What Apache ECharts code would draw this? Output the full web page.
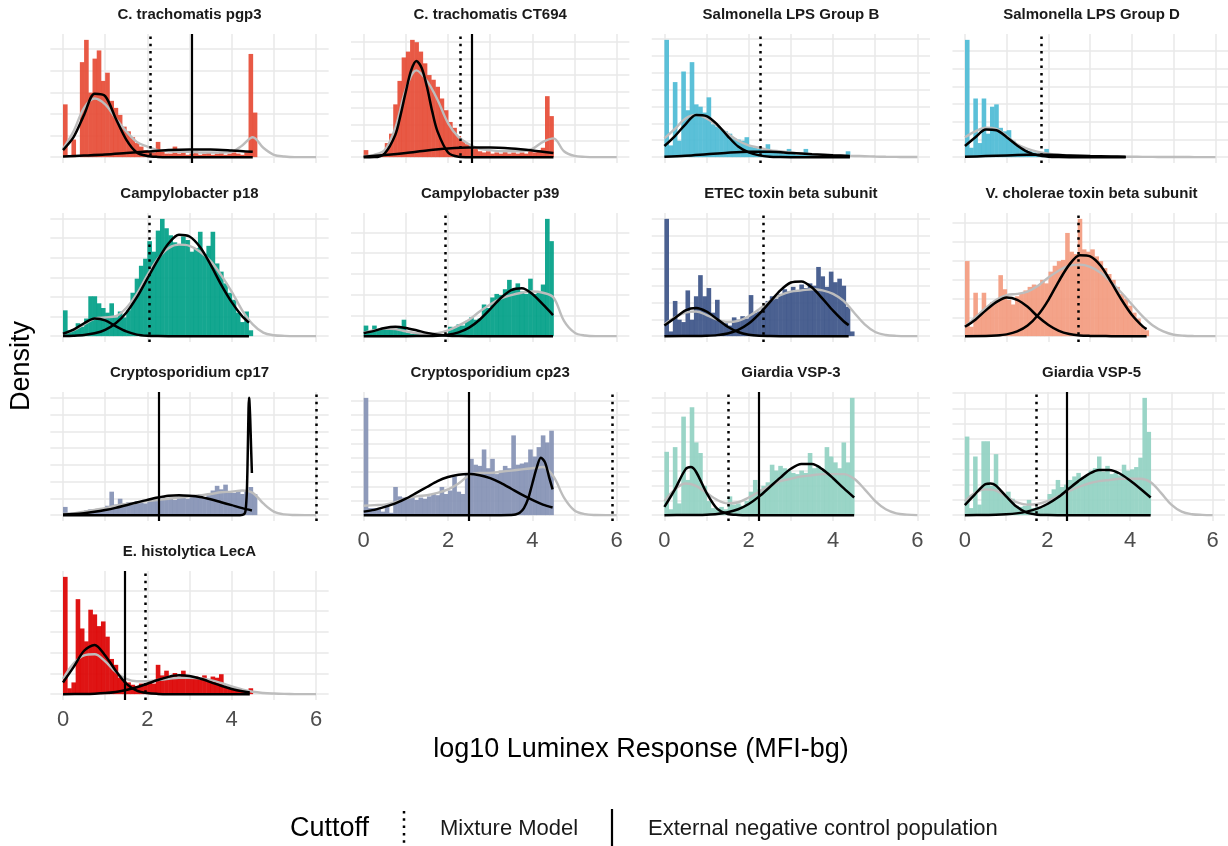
<!DOCTYPE html>
<html><head><meta charset="utf-8">
<script src="https://cdn.jsdelivr.net/npm/echarts@6/dist/echarts.min.js"></script>
<style>html,body{margin:0;padding:0;background:#fff}#c{width:1228px;height:846px}</style>
</head><body><div id="c"></div>
<script>
// ---------------- DATA ----------------
const panelTitles = ['C. trachomatis pgp3','C. trachomatis CT694','Salmonella LPS Group B','Salmonella LPS Group D',
  'Campylobacter p18','Campylobacter p39','ETEC toxin beta subunit','V. cholerae toxin beta subunit',
  'Cryptosporidium cp17','Cryptosporidium cp23','Giardia VSP-3','Giardia VSP-5','E. histolytica LecA'];
const binWidth = 0.1;           // histogram bins start at 0
const densX = [0,0.25,0.5,0.75,1,1.25,1.5,1.75,2,2.25,2.5,2.75,3,3.25,3.5,3.75,4,4.25,4.5,4.75,5,5.25,5.5,5.75,6];
const xTickLabels = ['0','2','4','6'];
// cutoffs (log10 MFI-bg); null = not drawn
const mixtureCutoff  = [2.06,2.30,2.27,1.83,2.05,1.93,2.34,2.72,6.00,5.90,1.52,1.72,1.94];
const externalCutoff = [3.05,2.56,null,null,null,null,null,null,2.27,2.50,2.24,2.47,1.46];
// y grid spacing per panel (same units as densities below)
const yGridStep = [18.4,14,14.4,15.1,16.7,17.7,14.3,16.1,14.3,12.2,12.5,13,17.7];

// histograms (relative density per 0.1 bin)
const histPgp3 = [45,0,15,0,81,100,55,84,91,65,72,48,42,36,26,22,17,12,9,6,5,4,13,5,3,3,9,3,4,2,3,5,2,3,4,2,3,4,2,3,4,3,2,4,88,38];
const histCT694 = [6,1,1,2,3,12,20,45,65,85,90,100,98,90,80,70,66,60,50,40,30,25,18,14,11,8,7,5,4,5,3,4,3,5,3,4,3,4,3,5,4,6,8,52,35];
const histSalB = [100,10,64,14,73,40,81,45,43,38,51,28,26,24,22,20,16,15,14,17,9,8,7,6,11,5,4,5,3,7,3,2,3,7,2,2,1,2,1,1,1,1,1,5];
const histSalD = [100,8,50,12,50,20,43,45,25,22,23,14,10,8,6,5,4,3,3,7,2,1.5,1,1,0.8,0.5,0,1,0,0,0,0.8,0,0,0,0,0,0.8,0];
const histP18 = [22,5,6,11,8,15,34,34,28,24,20,28,16,21,16,22,37,49,60,66,81,72,90,100,92,86,80,78,85,82,72,75,89,70,77,89,62,55,45,37,31,20,12,21,5];
const histP39 = [9,5,9,6,7,6,8,6,7,14,3,2,2,1.5,1,1.5,1,2,1.5,2,8,7,10,9,13,16,14,15,27,24,33,36,35,40,48,40,45,38,36,49,36,38,44,100,81];
const histETEC = [100,4,30,14,12,39,14,34,52,34,41,20,31,12,11,9,16,14,17,15,35,20,21,24,30,34,32,36,40,38,42,39,44,41,45,43,59,51,42,55,46,49,43,25,4];
const histVC = [64,8,37,19,37,25,29,30,52,40,31,27,34,36,39,42,44,43,48,45,55,60,64,65,88,72,70,100,74,72,74,68,64,58,53,48,42,36,32,26,20,15,8,5];
const histCp17 = [7,2,2,1.5,3,4,5,5,4,6,8,20,9,14,10,11,9,12,11,10,13,14,12,16,14,15,13,16,15,14,17,16,18,15,17,21,25,22,26,20,19,21,18,20,24,18];
const histCp23 = [100,6,6,5,3,9,2,24,16,15,14,15,13,15,14,16,18,17,24,18,21,33,20,18,36,48,43,42,56,40,48,35,38,42,40,68,43,44,45,56,50,58,68,62,72];
const histVSP3 = [54,5,58,10,84,30,92,62,53,25,12,6,5,7,5,16,9,10,8,12,20,30,22,25,28,43,38,42,40,38,36,35,38,36,53,40,42,38,58,50,45,40,62,45,100];
const histVSP5 = [67,6,50,9,63,63,25,52,20,18,20,14,8,7,8,13,6,7,6,8,18,22,30,24,26,30,33,36,31,34,38,40,50,37,42,35,36,34,43,38,39,41,49,100,71];
const histLecA = [100,5,10,81,56,45,72,68,58,62,49,30,25,14,11,10,8,7,9,8,10,9,25,16,20,15,18,14,20,16,13,15,14,16,13,15,14,17,6,5,4,4,3,3,5];

// overall density (grey), sampled at densX
const densPgp3 = [7,22,42,50,45,33,22,13,9,6,5,4.5,4.5,4,4,4,4.5,10,17,8,2,0.5,0,0,0];
const densCT694 = [1,2,6,25,58,74,65,49,29,17,11,7,6,5,5,5,7,13,16,5,1,0.2,0,0,0];
const densSalB = [16,24,33,36,33,27,20,14,10,8,6,5,4,3,2.5,2,1.5,1.2,1,0.8,0.5,0.3,0.2,0.1,0.1];
const densSalD = [17,22,25,24,18,11,7,4.5,3,2,1.5,1,0.8,0.6,0.5,0.4,0.3,0.25,0.2,0.15,0.1,0.07,0.05,0.02,0];
const densP18 = [2,5,10,15,16,17,24,36,52,66,75,78,77,72,64,52,38,22,10,3,0.8,0.2,0,0,0];
const densP39 = [3,5,6.5,6,4,2.5,2,2.5,5,9,14,21,27,32,35,37,38,37,33,13,3,0.5,0,0,0];
const densETEC = [10,16,20,21,18,14,12,13,17,23,30,35,38,39,40,39,36,30,20,10,3.5,1,0.2,0,0];
const densVC = [8,16,24,31,35,36,38,43,50,56,60,61,59,54,46,37,27,17,9,4,1.2,0.3,0.05,0,0];
const densCp17 = [1,1.5,3,4.5,6,8,9.5,10.5,12,13,14,15,16,17,18,19.5,20,21,19,10,3,0.6,0.1,0,0];
const densCp23 = [8,8.5,9,11,14,16,17,19,22,27,34,36,36,37,38,39,40,41,33,15,4,0.8,0.1,0,0];
const densVSP3 = [12,22,27,25,19,13,10,11,15,20,25,29,31,33,34,35,35,35,31,22,12,5,1.5,0.4,0];
const densVSP5 = [12,19,22,21,16,11,9,9.5,12,16,20,24,27,29,30,31,31,31,28,19,9,3,0.8,0.2,0];
const densLecA = [13,26,33,34,28,19,13,11,11,12,13,14,14,13.5,12,9.5,6.5,4,2,1,0.5,0.2,0.05,0,0];

// mixture model components (black), [x, density]
const negPgp3 = [[0,6],[0.25,17],[0.5,36],[0.75,54],[1,52],[1.25,33],[1.5,15],[1.75,4],[2,1],[2.25,0.2],[2.5,0],[4.5,0]];
const posPgp3 = [[0,0.5],[0.5,1.3],[1,2.2],[1.5,3.5],[2,4.8],[2.5,6],[3,6.5],[3.5,6.5],[4,5.7],[4.5,4.5]];
const negCT694 = [[0,0],[0.25,0.03],[0.5,3.3],[0.75,19],[0.875,36],[1,56],[1.125,74],[1.25,82],[1.375,76],[1.5,60],[1.625,39],[1.75,22],[2,4],[2.25,0.4],[2.5,0],[4.5,0]];
const posCT694 = [[0,0.4],[0.5,1.8],[1,3.5],[1.5,5.7],[2,7.4],[2.5,8.3],[3,8.3],[3.5,7.4],[4,5.7],[4.5,3.5]];
const negSalB = [[0,9.5],[0.25,18],[0.5,28],[0.75,36],[1,35],[1.25,28],[1.5,18],[1.75,9],[2,4],[2.25,1.5],[2.5,0.4],[2.75,0.1],[3,0],[4.4,0]];
const posSalB = [[0,0.3],[0.5,1.2],[1,2.5],[1.5,3.8],[2,4.6],[2.5,4.5],[3,3.6],[3.5,2.5],[4,1.6],[4.4,1]];
const negSalD = [[0,9.5],[0.25,17],[0.5,23.5],[0.75,23],[1,17],[1.25,10],[1.5,4.5],[1.75,1.5],[2,0.4],[2.25,0.1],[2.5,0],[3.85,0]];
const posSalD = [[0,0.3],[0.5,0.9],[1,1.5],[1.5,2],[2,2],[2.5,1.5],[3,1],[3.5,0.6],[3.85,0.4]];
const negP18 = [[0,2],[0.25,5.5],[0.5,11],[0.75,15],[1,13.5],[1.25,8.5],[1.5,4],[1.75,1.3],[2,0.3],[2.25,0.05],[2.5,0],[4.41,0]];
const posP18 = [[0,0.1],[0.25,0.4],[0.5,1],[0.75,2.4],[1,5.4],[1.25,11],[1.5,20],[1.75,33],[2,49],[2.25,65],[2.5,79],[2.75,86.5],[3,85],[3.25,76],[3.5,61],[3.75,44],[4,29],[4.25,17],[4.41,11.5]];
const negP39 = [[0,2.5],[0.25,4.5],[0.5,7],[0.75,8],[1,7],[1.25,5],[1.5,2.8],[1.75,1.2],[2,0.4],[2.25,0.1],[2.5,0],[4.49,0]];
const posP39 = [[0,0],[1,0],[1.5,0.1],[1.75,0.4],[2,1.2],[2.25,3.2],[2.5,7.2],[2.75,14],[3,23],[3.25,32.5],[3.5,39.3],[3.75,40.8],[4,36],[4.25,27],[4.49,18]];
const negETEC = [[0,9],[0.25,15.5],[0.5,22],[0.75,24],[1,21],[1.25,14.5],[1.5,8],[1.75,3.5],[2,1.2],[2.25,0.3],[2.5,0.1],[2.75,0],[4.37,0]];
const posETEC = [[0,0],[0.75,0.05],[1,0.28],[1.25,0.86],[1.5,2.3],[1.75,5.3],[2,10.7],[2.25,19],[2.5,29],[2.75,39],[3,45.7],[3.25,46.6],[3.5,41.4],[3.75,32],[4,21.7],[4.25,12.7],[4.37,9.4]];
const negVC = [[0,8],[0.25,14],[0.5,22],[0.75,29],[1,33],[1.25,31],[1.5,25],[1.75,16.5],[2,9.5],[2.25,4.5],[2.5,1.8],[2.75,0.6],[3,0.2],[3.25,0.05],[3.5,0],[4.35,0]];
const posVC = [[0,0],[0.5,0.1],[0.75,0.5],[1,1.5],[1.25,4],[1.5,9],[1.75,18],[2,31],[2.25,47],[2.5,61],[2.75,69],[3,68],[3.25,60],[3.5,46],[3.75,31],[4,18],[4.25,8.5],[4.35,6]];
const negCp17 = [[0,0.6],[0.25,1],[0.5,1.7],[0.75,2.8],[1,4.3],[1.25,6.2],[1.5,8.5],[1.75,10.8],[2,13],[2.25,15],[2.5,16.5],[2.75,17],[3,16.5],[3.25,15.5],[3.5,13.5],[3.75,11],[4,8.5],[4.25,6],[4.48,4]];
const posCp17 = [[0,0],[4.2,0],[4.3,1],[4.33,4],[4.36,20],[4.38,50],[4.4,90],[4.41,100],[4.42,98],[4.44,82],[4.46,58],[4.48,36]];
const negCp23 = [[0,3],[0.25,4.5],[0.5,7],[0.75,10],[1,14],[1.25,19],[1.5,24],[1.75,29],[2,32.5],[2.25,34.5],[2.5,35],[2.75,34],[3,31.5],[3.25,27.5],[3.5,22.5],[3.75,17.5],[4,13],[4.25,9],[4.48,6.5]];
const posCp23 = [[0,0],[3.25,0],[3.5,0.1],[3.6,0.5],[3.7,2],[3.8,6],[3.9,14],[4,27],[4.1,40],[4.2,49],[4.3,45],[4.4,32],[4.48,22]];
const negVSP3 = [[0,7],[0.25,22],[0.5,39],[0.625,41],[0.75,37],[1,19],[1.25,5.5],[1.5,1],[1.75,0.15],[2,0],[4.5,0]];
const posVSP3 = [[0,0],[0.5,0.05],[0.75,0.15],[1,0.4],[1.25,1],[1.5,2.4],[1.75,5],[2,9.5],[2.25,16],[2.5,24],[2.75,32],[3,39.5],[3.25,43.5],[3.5,43.5],[3.75,39],[4,31.5],[4.25,23],[4.5,15]];
const negVSP5 = [[0,8.6],[0.25,18],[0.5,26.5],[0.625,27],[0.75,25.2],[1,16],[1.25,7.3],[1.5,2.1],[1.75,0.4],[2,0.05],[2.25,0],[4.5,0]];
const posVSP5 = [[0,0],[0.5,0.1],[0.75,0.25],[1,0.7],[1.25,1.5],[1.5,3],[1.75,5.5],[2,9.5],[2.25,15],[2.5,22],[2.75,29],[3,35],[3.25,38.5],[3.5,38.5],[3.75,35.5],[4,29.5],[4.25,22.5],[4.5,15]];
const negLecA = [[0,10],[0.25,23],[0.5,37],[0.75,42],[1,33],[1.25,20],[1.5,9],[1.75,3],[2,0.9],[2.25,0.2],[2.5,0],[4.43,0]];
const posLecA = [[0,0],[0.5,0.14],[0.75,0.37],[1,0.9],[1.25,1.9],[1.5,3.5],[1.75,5.9],[2,8.9],[2.25,12],[2.5,14.7],[2.75,16],[3,15.4],[3.25,13.3],[3.5,10.3],[3.75,7.1],[4,4.4],[4.25,2.4],[4.43,1.5]];

// ---------------- STYLE / LAYOUT ----------------
const panelColors = ['#E64B35','#E64B35','#4DBBD5','#4DBBD5','#00A087','#00A087','#3C5488','#F39B7F','#8491B4','#8491B4','#91D1C2','#91D1C2','#DC0000'];
const hists = [histPgp3,histCT694,histSalB,histSalD,histP18,histP39,histETEC,histVC,histCp17,histCp23,histVSP3,histVSP5,histLecA];
const denss = [densPgp3,densCT694,densSalB,densSalD,densP18,densP39,densETEC,densVC,densCp17,densCp23,densVSP3,densVSP5,densLecA];
const negs = [negPgp3,negCT694,negSalB,negSalD,negP18,negP39,negETEC,negVC,negCp17,negCp23,negVSP3,negVSP5,negLecA];
const poss = [posPgp3,posCT694,posSalB,posSalD,posP18,posP39,posETEC,posVC,posCp17,posCp23,posVSP3,posVSP5,posLecA];

const FONT = '"Liberation Sans", Arial, Helvetica, sans-serif';
const colLeft0 = 50.35, colStep = 300.7, panelW = 278.3;
const rowTop0 = 34, rowStep = 179, panelH = 129;
const labelled = new Set([9,10,11,12]);
const gridColor = '#E8E8E8';

const grids=[], xAxes=[], yAxes=[], series=[], graphics=[];
panelTitles.forEach((title,i)=>{
  const r = Math.floor(i/4), c = i%4;
  const left = colLeft0 + c*colStep, top = rowTop0 + r*rowStep;
  grids.push({left:left, top:top, width:panelW, height:panelH});
  const hist = hists[i];
  let M = Math.max(...hist, ...denss[i], ...negs[i].map(d=>d[1]), ...poss[i].map(d=>d[1]));
  xAxes.push({type:'value', gridIndex:i, min:-0.3, max:6.3, minInterval:1, maxInterval:1,
    axisLine:{show:false}, axisTick:{show:false},
    splitLine:{show:true, showMinLine:false, showMaxLine:false, lineStyle:{color:gridColor, width:1.5}},
    axisLabel:{show:labelled.has(i), color:'#4D4D4D', fontSize:22, fontFamily:FONT, margin:9,
      formatter:(v)=>{ const n=Math.round(v); if (Math.abs(v-n)>1e-6) return ''; const s=String(n); return xTickLabels.indexOf(s)>=0 ? s : ''; }}
  });
  yAxes.push({type:'value', gridIndex:i, min:-0.05*M, max:1.05*M, minInterval:yGridStep[i], maxInterval:yGridStep[i],
    axisLine:{show:false}, axisTick:{show:false}, axisLabel:{show:false},
    splitLine:{show:true, showMinLine:false, showMaxLine:false, lineStyle:{color:gridColor, width:1.5}}
  });
  const color = panelColors[i];
  series.push({type:'custom', xAxisIndex:i, yAxisIndex:i, silent:true, z:1,
    encode:{x:[0,1], y:2},
    data: hist.map((v,k)=>[k*binWidth,(k+1)*binWidth,v]).filter(d=>d[2]>0),
    renderItem:(params, api)=>{
      const a = api.coord([api.value(0), api.value(2)]);
      const b = api.coord([api.value(1), 0]);
      return {type:'rect', shape:{x:a[0], y:a[1], width:b[0]-a[0]+0.4, height:b[1]-a[1]}, style:{fill:color, opacity:0.92}};
    }
  });
  series.push({type:'line', xAxisIndex:i, yAxisIndex:i, silent:true, z:2, symbol:'none', smooth:0.35,
    data: denss[i].map((v,k)=>[densX[k], v]), lineStyle:{color:'#BDBDBD', width:2.4}});
  series.push({type:'line', xAxisIndex:i, yAxisIndex:i, silent:true, z:3, symbol:'none', smooth:0.3,
    data: negs[i], lineStyle:{color:'#000', width:2.5}});
  const ml = [];
  if (mixtureCutoff[i]!=null) ml.push({xAxis:mixtureCutoff[i], lineStyle:{color:'#000', width:2.5, type:[2.5,4.8]}});
  if (externalCutoff[i]!=null) ml.push({xAxis:externalCutoff[i], lineStyle:{color:'#000', width:2.2, type:'solid'}});
  series.push({type:'line', xAxisIndex:i, yAxisIndex:i, silent:true, z:4, symbol:'none', smooth:0.3,
    data: poss[i], lineStyle:{color:'#000', width:2.5},
    markLine:{silent:true, symbol:['none','none'], label:{show:false}, animation:false, data:ml}});
  graphics.push({type:'text', x:left+panelW/2, y:top-19, silent:true,
    style:{text:title, font:'bold 15px '+FONT, fill:'#1A1A1A', align:'center', verticalAlign:'middle', textAlign:'center', textVerticalAlign:'middle'}});
});

// axis titles
graphics.push({type:'text', x:641, y:750, style:{text:'log10 Luminex Response (MFI-bg)', font:'27px '+FONT, fill:'#000', align:'center', verticalAlign:'middle', textAlign:'center', textVerticalAlign:'middle'}});
graphics.push({type:'text', x:22, y:366, rotation:Math.PI/2, style:{text:'Density', font:'27px '+FONT, fill:'#000', align:'center', verticalAlign:'middle', textAlign:'center', textVerticalAlign:'middle'}});
// legend
graphics.push({type:'text', x:290, y:829, style:{text:'Cuttoff', font:'27px '+FONT, fill:'#000', verticalAlign:'middle', textVerticalAlign:'middle'}});
graphics.push({type:'line', shape:{x1:404,y1:811,x2:404,y2:846}, style:{stroke:'#000', lineWidth:2.5, lineDash:[2.5,4.8]}});
graphics.push({type:'text', x:440, y:829, style:{text:'Mixture Model', font:'22px '+FONT, fill:'#1A1A1A', verticalAlign:'middle', textVerticalAlign:'middle'}});
graphics.push({type:'line', shape:{x1:612,y1:809,x2:612,y2:846}, style:{stroke:'#000', lineWidth:2.2}});
graphics.push({type:'text', x:648, y:829, style:{text:'External negative control population', font:'22px '+FONT, fill:'#1A1A1A', verticalAlign:'middle', textVerticalAlign:'middle'}});

const chart = echarts.init(document.getElementById('c'));
chart.setOption({animation:false, backgroundColor:'#fff', grid:grids, xAxis:xAxes, yAxis:yAxes, series:series, graphic:graphics});
</script></body></html>
